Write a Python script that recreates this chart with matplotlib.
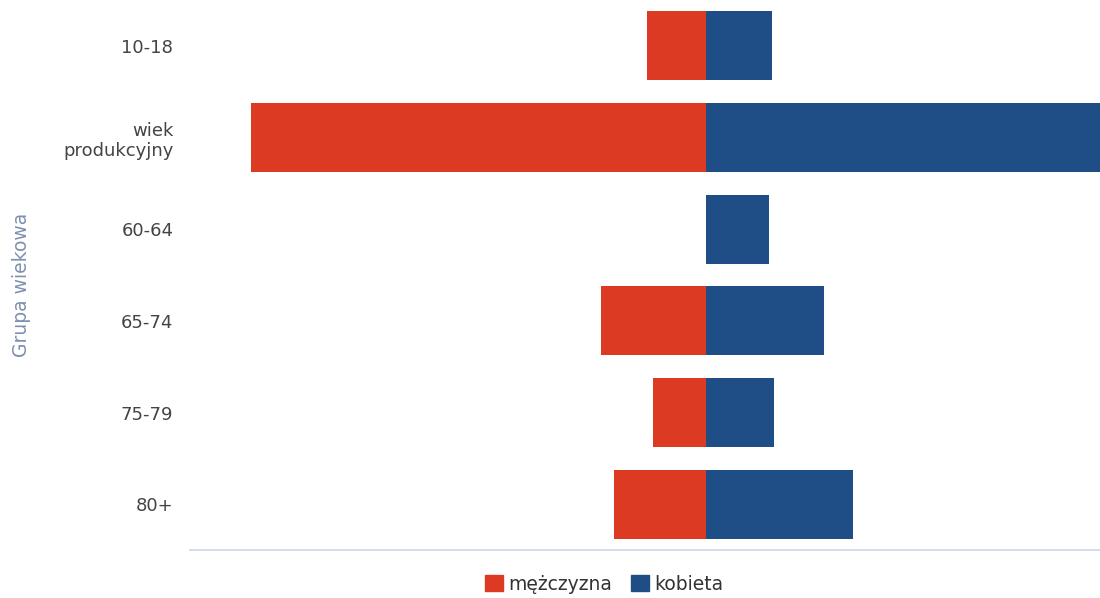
import matplotlib.pyplot as plt
import numpy as np
from matplotlib.patches import Patch

groups = ['10-18', 'wiek\nprodukcyjny', '60-64', '65-74', '75-79', '80+']
men = [59, 455, 0, 105, 53, 92]
women = [66, 420, 63, 118, 68, 147]

red = '#dc3a22'
blue = '#1f4e86'

fig = plt.figure(figsize=(11, 5.98), dpi=100)
ax = fig.add_axes([190 / 1100, 1 - 550 / 598, 1 - 190 / 1100, 550 / 598])

y = np.arange(len(groups))
ax.barh(y, [-m for m in men], height=0.75, color=red)
ax.barh(y, women, height=0.75, color=blue)

ax.set_xlim(-516, 394)
ax.set_ylim(5.5, -0.5)
ax.set_yticks(y)
ax.set_yticklabels(groups, fontsize=13, color='#444444', multialignment='right')
ax.set_xticks([])
ax.tick_params(axis='y', length=0, pad=12)
for s in ['top', 'right', 'left']:
    ax.spines[s].set_visible(False)
ax.spines['bottom'].set_color('#ccd6eb')
ax.spines['bottom'].set_linewidth(1.2)

fig.text(22 / 1100, 1 - 285 / 598, 'Grupa wiekowa', rotation=90, fontsize=13.5,
         color='#7d90ad', ha='center', va='center')

handles = [Patch(color=red, label='mężczyzna'), Patch(color=blue, label='kobieta')]
fig.legend(handles=handles, loc='center', bbox_to_anchor=(604 / 1100, 1 - 584 / 598),
           ncol=2, frameon=False, fontsize=13.5, handlelength=0.95, handleheight=0.95,
           handletextpad=0.3, columnspacing=1.0, labelcolor='#333333')

fig.savefig('out.png', dpi=100)
